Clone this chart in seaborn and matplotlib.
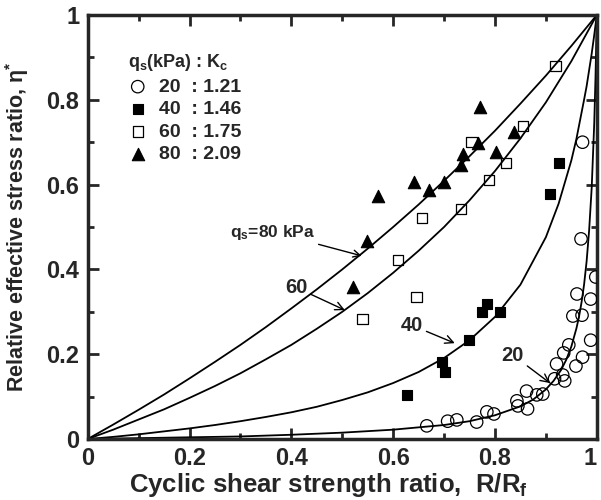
import numpy as np
import pandas as pd
import matplotlib
matplotlib.use("Agg")
import matplotlib.pyplot as plt
import seaborn as sns
from matplotlib.ticker import MultipleLocator, FuncFormatter

q20_x = [0.666, 0.707, 0.725, 0.764, 0.784, 0.798, 0.843, 0.845, 0.864, 0.862,
         0.882, 0.894, 0.917, 0.937, 0.933, 0.921, 0.959, 0.972, 0.935, 0.945,
         0.988, 0.953, 0.971, 0.961, 0.988, 0.998, 0.969, 0.972]
q20_y = [0.031, 0.042, 0.045, 0.040, 0.064, 0.059, 0.090, 0.078, 0.071, 0.113,
         0.104, 0.106, 0.142, 0.137, 0.151, 0.177, 0.172, 0.193, 0.203, 0.222,
         0.233, 0.290, 0.292, 0.342, 0.330, 0.382, 0.472, 0.700]

q40_x = [0.627, 0.695, 0.701, 0.749, 0.775, 0.785, 0.809, 0.908, 0.925]
q40_y = [0.104, 0.182, 0.158, 0.233, 0.300, 0.318, 0.300, 0.578, 0.651]

q60_x = [0.540, 0.646, 0.609, 0.656, 0.733, 0.788, 0.821, 0.754, 0.855, 0.919]
q60_y = [0.283, 0.335, 0.422, 0.521, 0.542, 0.611, 0.651, 0.700, 0.738, 0.880]

q80_x = [0.521, 0.548, 0.570, 0.640, 0.670, 0.699, 0.733, 0.737, 0.766, 0.802,
         0.837, 0.770]
q80_y = [0.358, 0.467, 0.573, 0.606, 0.587, 0.606, 0.646, 0.672, 0.698, 0.677,
         0.724, 0.783]

# fitted curves, points
c80_x = [0, 0.05, 0.1, 0.15, 0.2, 0.25, 0.3, 0.35, 0.4, 0.45, 0.5, 0.55, 0.6,
         0.65, 0.7, 0.75, 0.8, 0.85, 0.9, 0.95, 1.0]
c80_y = [0, 0.034, 0.069, 0.105, 0.143, 0.182, 0.222, 0.264, 0.308, 0.353,
         0.400, 0.449, 0.500, 0.553, 0.609, 0.667, 0.727, 0.791, 0.857, 0.927, 1.0]

c60_x = [0, 0.05, 0.1, 0.15, 0.2, 0.25, 0.3, 0.35, 0.4, 0.45, 0.5, 0.55, 0.6,
         0.65, 0.7, 0.75, 0.8, 0.85, 0.9, 0.95, 1.0]
c60_y = [0, 0.022, 0.046, 0.070, 0.097, 0.125, 0.155, 0.188, 0.222, 0.260,
         0.300, 0.344, 0.392, 0.444, 0.500, 0.563, 0.632, 0.709, 0.794, 0.891, 1.0]

c40_x = [0, 0.05, 0.1, 0.15, 0.2, 0.25, 0.3, 0.35, 0.4, 0.45, 0.5, 0.55, 0.6,
         0.65, 0.7, 0.75, 0.8, 0.85, 0.9, 0.925, 0.95, 0.96, 0.975, 0.98, 0.99,
         0.995, 1.0]
c40_y = [0, 0.005, 0.011, 0.018, 0.025, 0.033, 0.042, 0.052, 0.063, 0.076,
         0.092, 0.110, 0.132, 0.158, 0.191, 0.233, 0.288, 0.364, 0.476, 0.555,
         0.657, 0.708, 0.800, 0.832, 0.909, 0.953, 1.0]

c20_x = [0, 0.2, 0.3, 0.4, 0.5, 0.6, 0.7, 0.75, 0.8, 0.85, 0.875, 0.9, 0.915,
         0.93, 0.94, 0.95, 0.96, 0.965, 0.97, 0.975, 0.98, 0.985, 0.99, 0.995,
         0.9975, 1.0]
c20_y = [0, 0.004, 0.006, 0.010, 0.015, 0.022, 0.033, 0.042, 0.056, 0.077,
         0.093, 0.117, 0.137, 0.163, 0.187, 0.218, 0.261, 0.288, 0.322, 0.364,
         0.419, 0.493, 0.593, 0.745, 0.854, 1.0]

legend_labels = ["20  : 1.21", "40  : 1.46", "60  : 1.75", "80  : 2.09"]

sns.set_style("ticks")
plt.rcParams["font.family"] = ["Liberation Sans", "DejaVu Sans"]
plt.rcParams["font.weight"] = "bold"
plt.rcParams["mathtext.fontset"] = "custom"
plt.rcParams["mathtext.rm"] = "Liberation Sans:bold"
plt.rcParams["mathtext.bf"] = "Liberation Sans:bold"
plt.rcParams["mathtext.it"] = "Liberation Sans:bold"
plt.rcParams["mathtext.default"] = "bf"

fig = plt.figure(figsize=(6.01, 5.0), dpi=100)
ax = fig.add_axes([0.146, 0.122, 0.847, 0.848])

for cx, cy in [(c80_x, c80_y), (c60_x, c60_y), (c40_x, c40_y), (c20_x, c20_y)]:
    d = pd.DataFrame({"x": cx, "y": cy})
    sns.lineplot(data=d, x="x", y="y", ax=ax, color="black", lw=1.3,
                 sort=False, estimator=None)

sns.scatterplot(x=q20_x, y=q20_y, ax=ax, marker="o", s=80, facecolor="none",
                edgecolor="black", linewidth=0.9, label=legend_labels[0], zorder=3)
sns.scatterplot(x=q40_x, y=q40_y, ax=ax, marker="s", s=55, color="black",
                edgecolor="black", linewidth=0.8, label=legend_labels[1], zorder=3)
sns.scatterplot(x=q60_x, y=q60_y, ax=ax, marker="s", s=55, facecolor="none",
                edgecolor="black", linewidth=0.9, label=legend_labels[2], zorder=3)
sns.scatterplot(x=q80_x, y=q80_y, ax=ax, marker="^", s=80, color="black",
                edgecolor="black", linewidth=0.8, label=legend_labels[3], zorder=3)

ax.set_xlim(0, 1)
ax.set_ylim(0, 1)
ax.xaxis.set_major_locator(MultipleLocator(0.2))
ax.yaxis.set_major_locator(MultipleLocator(0.2))
ax.xaxis.set_minor_locator(MultipleLocator(0.1))
ax.yaxis.set_minor_locator(MultipleLocator(0.1))
fmt = FuncFormatter(lambda v, p: "%g" % round(v, 2))
ax.xaxis.set_major_formatter(fmt)
ax.yaxis.set_major_formatter(fmt)
ax.tick_params(which="both", direction="in", top=True, right=True, width=2,
               labelsize=17, pad=6)
ax.tick_params(which="major", length=8)
ax.tick_params(which="minor", length=4)
for s in ax.spines.values():
    s.set_linewidth(2.5)

ax.set_xlabel(r"Cyclic shear strength ratio,  R/R$_\mathbf{f}$", fontsize=18.5,
              fontweight="bold")
ax.xaxis.set_label_coords(0.473, -0.075)
ax.set_ylabel(r"Relative effective stress ratio, $\eta^{*}$", fontsize=15.5,
              fontweight="bold")
ax.yaxis.set_label_coords(-0.112, 0.50)

arrow = dict(arrowstyle="->", color="black", lw=1.0, shrinkA=0, shrinkB=0)
ax.annotate(r"q$_\mathbf{s}$=80 kPa", xy=(0.538, 0.432), xytext=(0.447, 0.488),
            fontsize=12.5, fontweight="bold", ha="right", va="center",
            arrowprops=arrow)
ax.annotate("60", xy=(0.505, 0.304), xytext=(0.41, 0.357), fontsize=14.5,
            fontweight="bold", ha="center", va="center", arrowprops=arrow)
ax.annotate("40", xy=(0.721, 0.226), xytext=(0.637, 0.268), fontsize=14.5,
            fontweight="bold", ha="center", va="center", arrowprops=arrow)
ax.annotate("20", xy=(0.908, 0.132), xytext=(0.835, 0.198), fontsize=14.5,
            fontweight="bold", ha="center", va="center", arrowprops=arrow)

leg = ax.legend(title=r"q$_\mathbf{s}$(kPa) : K$_\mathbf{c}$", loc="upper left",
                bbox_to_anchor=(0.06, 0.935), frameon=False, fontsize=14,
                title_fontsize=13, labelspacing=0.25, handletextpad=0.6,
                borderpad=0, handlelength=1.0, alignment="left")
for t in leg.get_texts():
    t.set_fontweight("bold")

# keep the "1" at the right end inside the canvas
fig.canvas.draw()
for tick in ax.xaxis.get_major_ticks():
    if abs(tick.get_loc() - 1.0) < 1e-6:
        tick.label1.set_horizontalalignment("right")

fig.savefig("out.png", dpi=100)
